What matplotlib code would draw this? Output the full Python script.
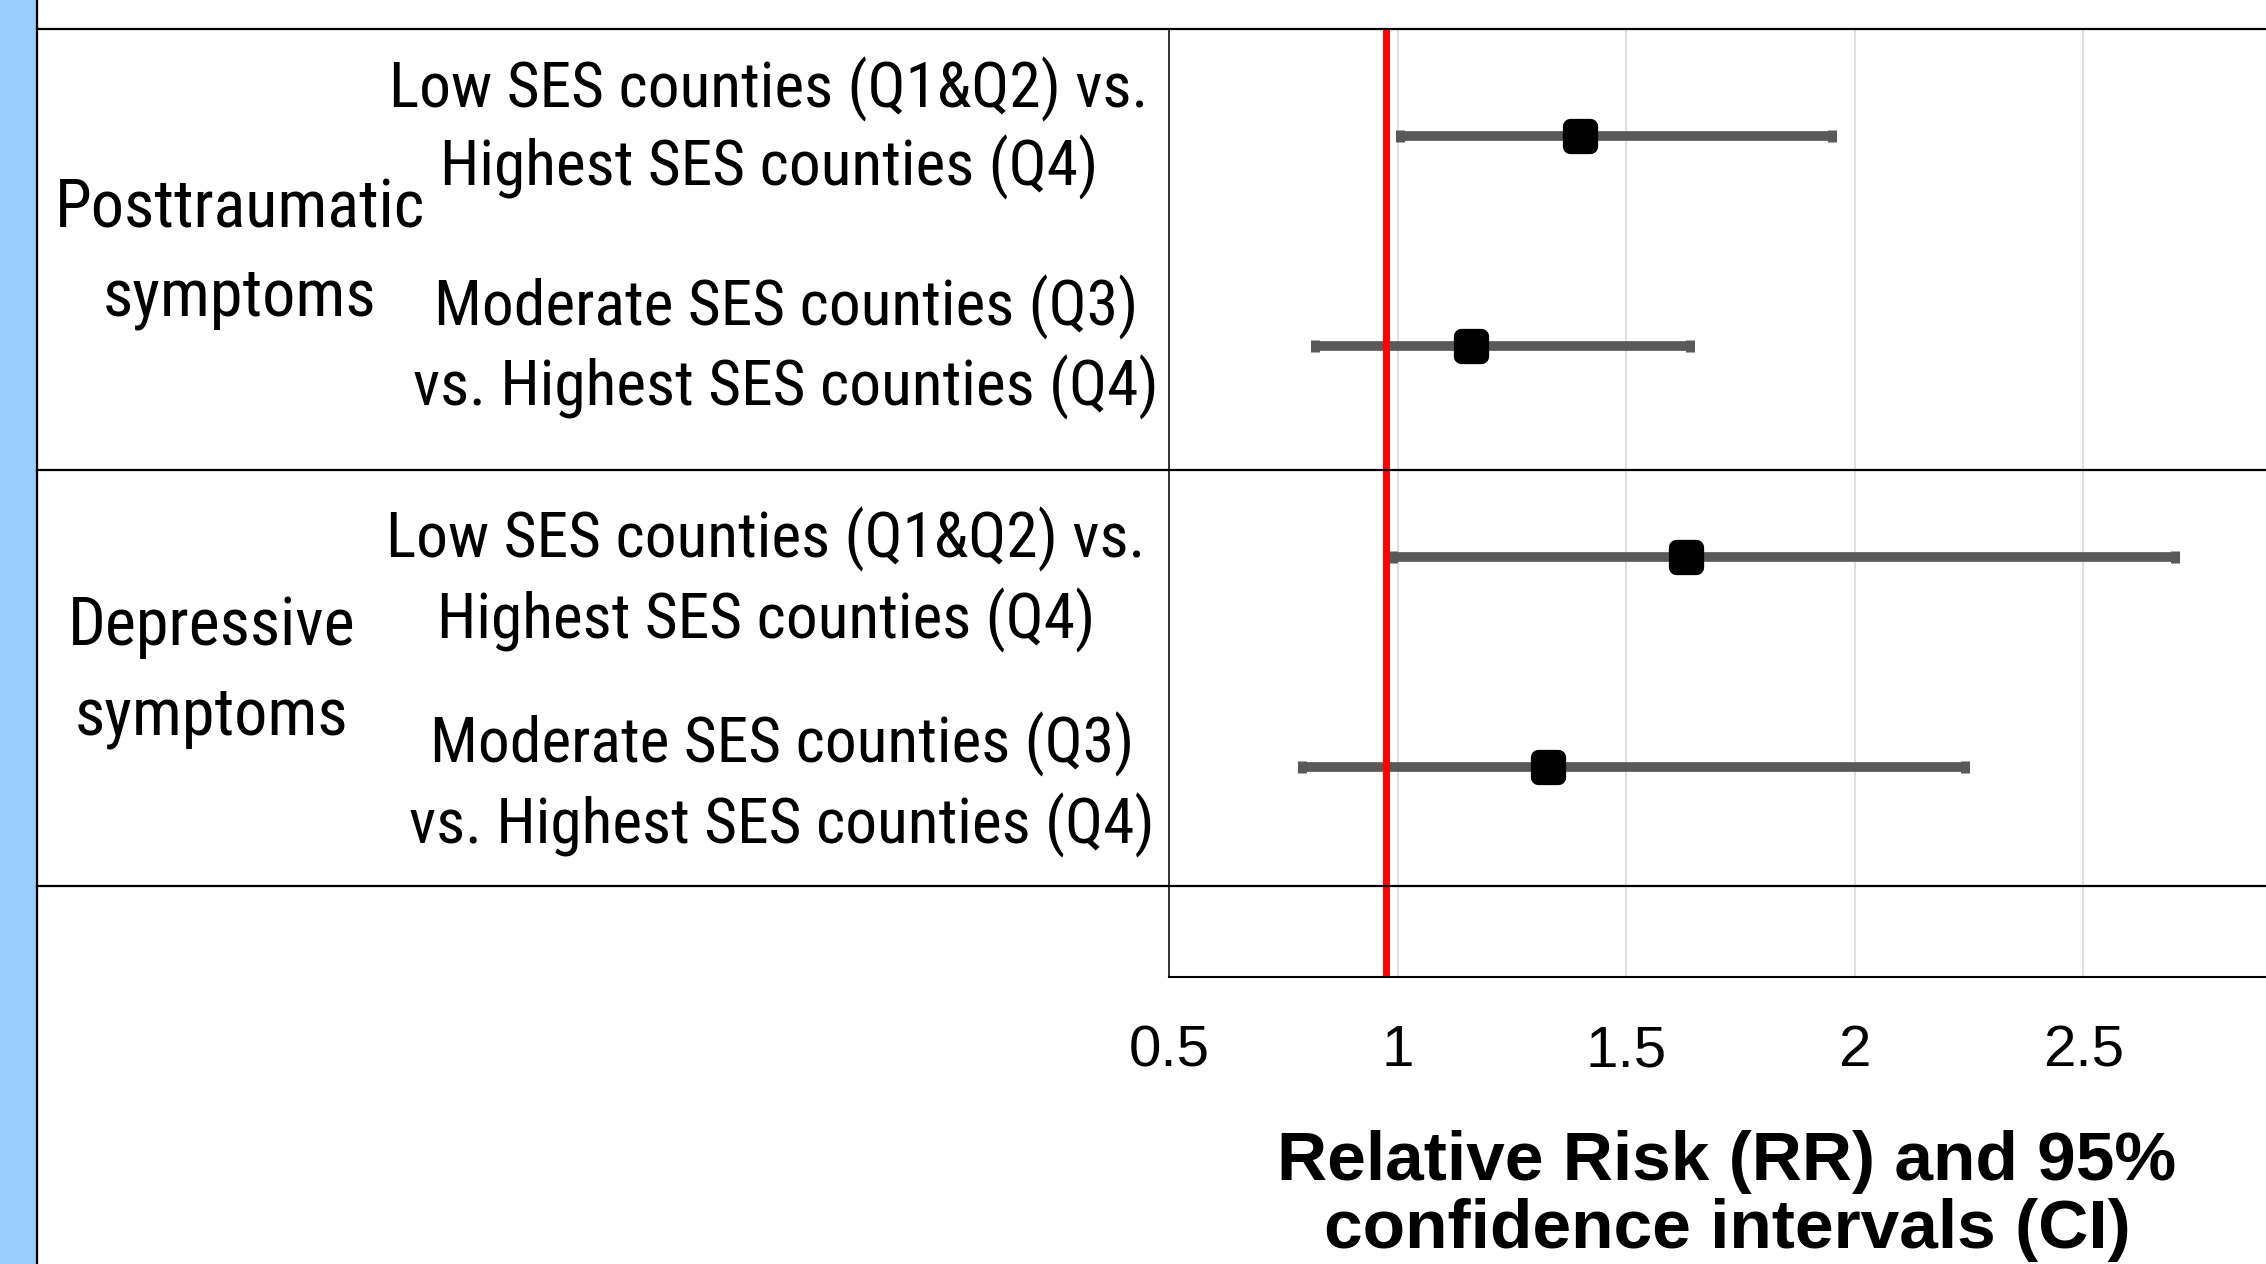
import os
import numpy as np
import matplotlib
matplotlib.use('Agg')
import matplotlib.pyplot as plt
import matplotlib.transforms as mtransforms
from matplotlib import font_manager
from matplotlib.font_manager import FontProperties
from matplotlib.lines import Line2D
from matplotlib.patches import Rectangle
from matplotlib.markers import MarkerStyle

# data
outcomes = ['Posttraumatic\nsymptoms', 'Depressive\nsymptoms']
comparisons = ['Low SES counties (Q1&Q2) vs.\nHighest SES counties (Q4)',
               'Moderate SES counties (Q3)\nvs. Highest SES counties (Q4)',
               'Low SES counties (Q1&Q2) vs.\nHighest SES counties (Q4)',
               'Moderate SES counties (Q3)\nvs. Highest SES counties (Q4)']
rr = np.array([1.40, 1.16, 1.63, 1.33])
ci_low = np.array([1.005, 0.82, 0.99, 0.79])
ci_high = np.array([1.95, 1.64, 2.70, 2.24])
ref_line = 0.975
xticks = [0.5, 1, 1.5, 2, 2.5]
xtick_labels = ['0.5', '1', '1.5', '2', '2.5']
xlabel = 'Relative Risk (RR) and 95%\nconfidence intervals (CI)'


def find_narrow():
    # a condensed sans face if one is installed, like the narrow type in the original
    prefs = ['liberationsansnarrow-regular', 'arialnarrow', 'robotocondensed-regular',
             'dejavusanscondensed.', 'opensans_condensed-regular', 'opensanscondensed-regular']
    files = [f.fname for f in font_manager.fontManager.ttflist]
    for p in prefs:
        for fn in files:
            if p in os.path.basename(fn).lower():
                return fn
    return None


narrow_file = find_narrow()
if narrow_file:
    narrow = FontProperties(fname=narrow_file)
else:
    narrow = FontProperties(family='Liberation Sans')

W, H = 2266, 1264
fig = plt.figure(figsize=(W / 100, H / 100), dpi=100)
renderer = fig.canvas.get_renderer()


def fx(px):
    return px / W


def fy(py):
    return 1 - py / H


def fit_size(text, target_px, start=40):
    # font size (pt) that gives the text the width it has in the original
    t = fig.text(0, 0, text, fontproperties=narrow, fontsize=start)
    w = t.get_window_extent(renderer).width
    t.remove()
    return start * target_px / w


ax = fig.add_axes([fx(1169), fy(977), 1 - fx(1169), (977 - 29) / H])
ypos = np.arange(len(rr), 0, -1)

ax.errorbar(rr, ypos, xerr=[rr - ci_low, ci_high - rr], fmt='none',
            ecolor='#595959', elinewidth=7, capsize=4.5, capthick=6.5, zorder=3)
ax.plot(rr, ypos, linestyle='none', marker=MarkerStyle('s', joinstyle='round'),
        ms=14, mew=11, mfc='black', mec='black', zorder=4)
ax.axvline(ref_line, ymin=0.005, ymax=1, color='#ff0000', lw=5, zorder=5)

ax.set_xlim(0.5, 0.5 + (W - 1169) / 457.2)
ax.set_ylim(0, 4.51)
ax.set_xticks(xticks)
ax.set_xticklabels(xtick_labels, family='Liberation Sans', fontsize=42)
ax.set_yticks([])
ax.tick_params(axis='x', length=0, pad=34)
ax.grid(axis='x', color='#d9d9d9', lw=1.2)
ax.set_axisbelow(True)
for s in ['top', 'right']:
    ax.spines[s].set_visible(False)
ax.spines['left'].set_linewidth(1.1)
ax.spines['bottom'].set_linewidth(1.5)

# table frame on the left
fig.add_artist(Rectangle((0, 0), fx(37), 1, transform=fig.transFigure,
                         color='#99ccff', zorder=1))
fig.add_artist(Line2D([fx(37), fx(37)], [0, 1], color='black', lw=1.6))
fig.add_artist(Line2D([fx(37), 1], [fy(29), fy(29)], color='black', lw=1.6))
blend = mtransforms.blended_transform_factory(fig.transFigure, ax.transData)
for yy in [2.411, 0.433]:
    fig.add_artist(Line2D([fx(37), 1], [yy, yy], transform=blend,
                          color='black', lw=1.6))

# row labels, one line at a time (cap centres measured on the original)
comp_size = fit_size('Low SES counties (Q1&Q2) vs.', 759)
comp_cap = 0.716 * comp_size * 100 / 72
comp_x = [769, 786, 766, 782]
comp_y = [(85, 163), (303, 383), (535, 616), (740, 821)]
for lab, x, ys in zip(comparisons, comp_x, comp_y):
    for line, y in zip(lab.split('\n'), ys):
        fig.text(fx(x), fy(y + comp_cap / 2), line, ha='center', va='baseline',
                 fontproperties=narrow, fontsize=comp_size)

out_size = fit_size('Posttraumatic', 370)
out_cap = 0.716 * out_size * 100 / 72
out_x = [240, 212]
out_y = [(204, 292), (621, 711)]
for lab, x, ys in zip(outcomes, out_x, out_y):
    for line, y in zip(lab.split('\n'), ys):
        fig.text(fx(x), fy(y + out_cap / 2), line, ha='center', va='baseline',
                 fontproperties=narrow, fontsize=out_size)

# axis title, kept just inside the bottom edge
for line, y in zip(xlabel.split('\n'), [1180, 1248]):
    fig.text(fx(1727), fy(y), line, ha='center', va='baseline',
             family='Liberation Sans', fontweight='bold', fontsize=50)

fig.savefig('out.png', dpi=100)
